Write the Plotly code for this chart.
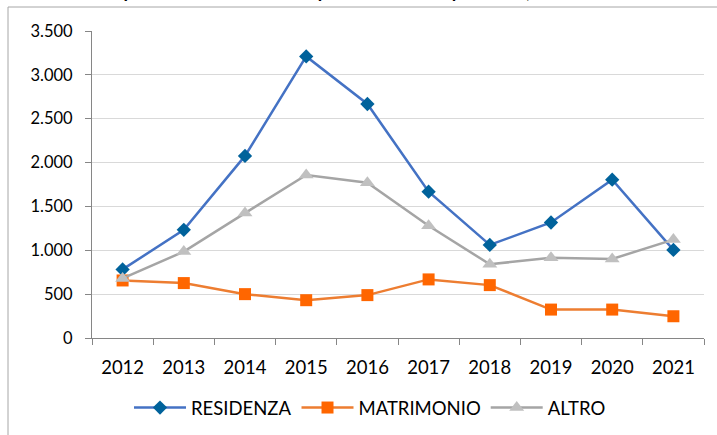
import plotly.graph_objects as go

years = ["2012", "2013", "2014", "2015", "2016", "2017", "2018", "2019", "2020", "2021"]
residenza = [782, 1233, 2076, 3210, 2668, 1668, 1061, 1317, 1805, 1004]
matrimonio = [656, 626, 500, 431, 489, 668, 603, 324, 324, 248]
altro = [679, 985, 1424, 1859, 1771, 1279, 840, 916, 901, 1122]
title_text = "Acquisizioni di cittadinanza per motivo di acquisizione, 2012-2021"

W, H = 717, 435
L, R, T, B = 92, 13, 31, 97
pw, ph = W - L - R, H - T - B

def px(x):
    return (x - L) / pw

def py(y):
    return (H - B - y) / ph

fig = go.Figure()
fig.add_trace(go.Scatter(x=years, y=residenza, name="RESIDENZA", mode="lines+markers",
                         line=dict(color="#4472C4", width=2.5),
                         marker=dict(symbol="diamond", size=11, color="#00629B")))
fig.add_trace(go.Scatter(x=years, y=matrimonio, name="MATRIMONIO", mode="lines+markers",
                         line=dict(color="#ED7D31", width=2.5),
                         marker=dict(symbol="square", size=12, color="#FF6600")))
fig.add_trace(go.Scatter(x=years, y=altro, name="ALTRO", mode="lines+markers",
                         line=dict(color="#A5A5A5", width=2.5),
                         marker=dict(symbol="triangle-up", size=13, color="#C0C0C0")))

fig.update_layout(
    width=W, height=H,
    margin=dict(l=L, r=R, t=T, b=B, autoexpand=False),
    paper_bgcolor="white", plot_bgcolor="white",
    font=dict(family="Lato, Open Sans, sans-serif", size=17, color="#000000"),
    separators=",.",
    showlegend=True,
    legend=dict(orientation="h", x=px(370), xanchor="center", y=py(408), yanchor="middle",
                font=dict(size=18.5), itemwidth=52, traceorder="normal"),
    xaxis=dict(type="category", showgrid=False, showline=True, linecolor="#868686", linewidth=1,
               ticks="outside", tickson="boundaries", ticklen=6, tickcolor="#868686",
               range=[-0.5, 9.5], ticklabelstandoff=13, automargin=False,
               tickfont=dict(size=18.5)),
    yaxis=dict(range=[0, 3500], dtick=500, tickformat=",", showgrid=True, gridcolor="#D9D9D9",
               gridwidth=1, showline=True, linecolor="#868686", linewidth=1, ticks="outside",
               ticklen=6, tickcolor="#868686", zeroline=False, ticklabelstandoff=9,
               automargin=False, tickfont=dict(size=16.5)),
    shapes=[dict(type="rect", xref="paper", yref="paper", x0=px(8), y0=py(440), x1=px(730),
                 y1=py(7), line=dict(color="#A6A6A6", width=1), fillcolor="rgba(0,0,0,0)", layer="below")],
    annotations=[dict(text="<b>" + title_text + "</b>", xref="paper", yref="paper", x=px(360), y=py(4),
                      xanchor="center", yanchor="bottom", showarrow=False,
                      font=dict(size=18, family="Lato, Open Sans, sans-serif"))],
)

fig.write_html("out.html", config={"displayModeBar": False},
               post_script="document.body.style.margin='0';document.body.style.overflow='hidden';")
